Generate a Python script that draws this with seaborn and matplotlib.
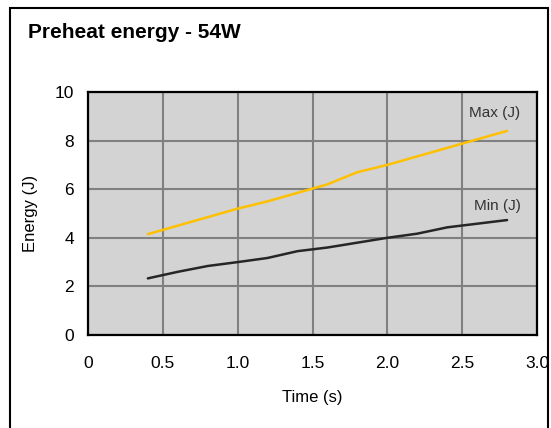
import matplotlib.pyplot as plt
import seaborn as sns
import pandas as pd
from matplotlib.patches import Rectangle

# Preheat energy at 54W, min / max envelopes
time_s = [0.4, 0.6, 0.8, 1.0, 1.2, 1.4, 1.6, 1.8, 2.0, 2.2, 2.4, 2.6, 2.8]
max_j = [4.15, 4.5, 4.85, 5.2, 5.5, 5.85, 6.2, 6.7, 7.0, 7.35, 7.7, 8.05, 8.4]
min_j = [2.33, 2.6, 2.84, 3.0, 3.17, 3.45, 3.6, 3.8, 4.0, 4.17, 4.43, 4.58, 4.73]

sns.set_style("white")
plt.rcParams['font.family'] = ['Liberation Sans', 'DejaVu Sans']
plt.rcParams['text.color'] = 'black'
plt.rcParams['axes.labelcolor'] = 'black'
plt.rcParams['xtick.color'] = 'black'
plt.rcParams['ytick.color'] = 'black'

df = pd.DataFrame({"Time": time_s * 2,
                   "Energy": max_j + min_j,
                   "Series": ["Max (J)"] * len(time_s) + ["Min (J)"] * len(time_s)})

fig = plt.figure(figsize=(5.51, 4.28), dpi=100)
ax = fig.add_axes([88 / 551, 1 - 335 / 428, (537 - 88) / 551, (335 - 92) / 428])
ax.set_facecolor("#d3d3d3")

sns.lineplot(data=df, x="Time", y="Energy", hue="Series",
             palette={"Max (J)": "#ffc000", "Min (J)": "#262626"},
             linewidth=1.8, legend=False, ax=ax)

ax.set_xlim(0, 3.0)
ax.set_ylim(0, 10)
ax.set_xticks([0, 0.5, 1.0, 1.5, 2.0, 2.5, 3.0])
ax.set_xticklabels(["0", "0.5", "1.0", "1.5", "2.0", "2.5", "3.0"])
ax.set_yticks([0, 2, 4, 6, 8, 10])
ax.grid(True, color="#808080", linewidth=1.5)
ax.set_axisbelow(True)
for s in ax.spines.values():
    s.set_color("black")
    s.set_linewidth(1.6)
ax.tick_params(axis="both", direction="out", length=5, width=1.3,
               color="black", labelsize=12.5, pad=5)
ax.tick_params(axis="x", pad=10)

ax.set_xlabel("Time (s)", fontsize=12, labelpad=14)
ax.set_ylabel("Energy (J)", fontsize=12, labelpad=12)

ax.text(2.89, 9.14, "Max (J)", ha="right", va="center", fontsize=11, color="#333333")
ax.text(2.89, 5.3, "Min (J)", ha="right", va="center", fontsize=11, color="#333333")

fig.text(28 / 551, 1 - 33 / 428, "Preheat energy - 54W", fontsize=15,
         fontweight="bold", ha="left", va="center")

fig.patches.append(Rectangle((10 / 551, -0.01), (548 - 10) / 551, 1 - 8 / 428 + 0.01,
                             transform=fig.transFigure, fill=False,
                             edgecolor="black", linewidth=1.5))

fig.savefig("out.png", dpi=100)
